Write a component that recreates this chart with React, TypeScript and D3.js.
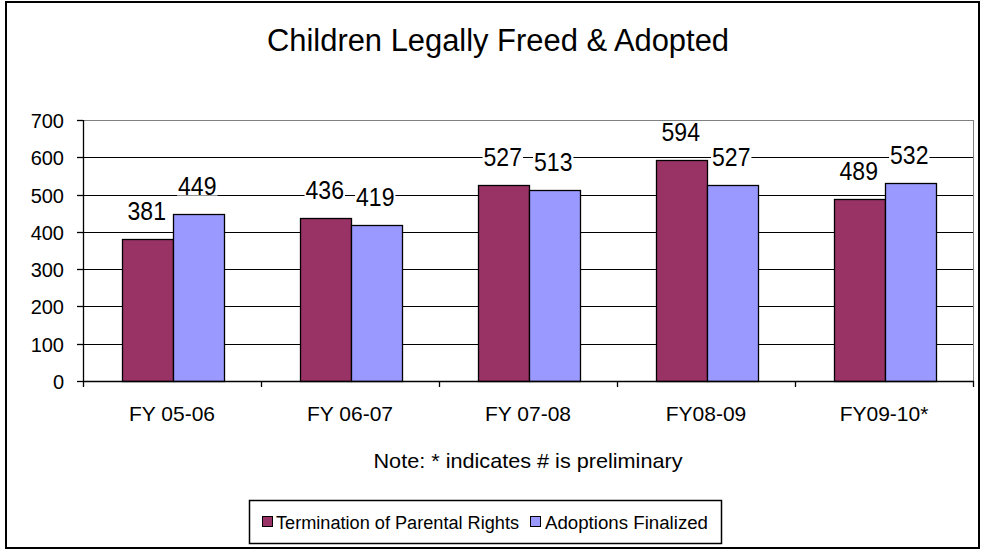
import React from "react";
import * as d3 from "d3";

const categories = ["FY 05-06", "FY 06-07", "FY 07-08", "FY08-09", "FY09-10*"];
const seriesNames = ["Termination of Parental Rights", "Adoptions Finalized"];
const terminationValues = [381, 436, 527, 594, 489];
const adoptionValues = [449, 419, 513, 527, 532];
const yTicks = [0, 100, 200, 300, 400, 500, 600, 700];
const colors = ["#993366", "#9999FF"];

const W = 982;
const H = 552;
const FONT = "'Liberation Sans', Arial, sans-serif";

export default function App() {
  const plotLeft = 83;
  const plotRight = 973;
  const plotTop = 120;
  const plotBottom = 381;

  const x = d3.scaleBand<string>().domain(categories).range([plotLeft, plotRight]).paddingInner(0).paddingOuter(0);
  const groupWidth = 101;
  const x1 = d3.scaleBand<number>().domain([0, 1]).range([0, groupWidth]);
  const y = d3.scaleLinear().domain([0, 700]).range([plotBottom, plotTop]);
  const yr = (v: number) => Math.round(y(v));

  const series = [terminationValues, adoptionValues];

  const labelFont = 25;
  const digitW = 12.8;

  return (
    <svg
      width={W}
      height={H}
      style={{ position: "absolute", left: 0, top: 0, background: "#fff" }}
      fontFamily={FONT}
    >
      <rect x={0} y={0} width={W} height={H} fill="#fff" />
      {/* outer frame */}
      <rect x={6} y={2} width={973} height={546} fill="#fff" stroke="#000" strokeWidth={2} />

      {/* title */}
      <text x={498} y={51} fontSize={31} textAnchor="middle" fill="#000" textLength={462} lengthAdjust="spacingAndGlyphs">
        Children Legally Freed &amp; Adopted
      </text>

      {/* gridlines */}
      {yTicks
        .filter((t) => t > 0 && t < 700)
        .map((t) => (
          <line key={"g" + t} x1={plotLeft} x2={plotRight} y1={yr(t) + 0.5} y2={yr(t) + 0.5} stroke="#000" strokeWidth={1} />
        ))}
      {/* plot area border top/right */}
      <line x1={plotLeft} x2={plotRight + 1} y1={plotTop + 0.5} y2={plotTop + 0.5} stroke="#808080" strokeWidth={1} />
      <line x1={plotRight + 0.5} x2={plotRight + 0.5} y1={plotTop} y2={plotBottom} stroke="#808080" strokeWidth={1} />

      {/* bars */}
      {categories.map((c, i) => {
        const gx = Math.round((x(c) as number) + x.bandwidth() / 2 - groupWidth / 2);
        return series.map((vals, s) => (
          <rect
            key={c + s}
            x={gx + Math.round(x1(s) as number) + 0.5}
            y={yr(vals[i]) + 0.5}
            width={Math.round(x1.bandwidth())}
            height={plotBottom - yr(vals[i])}
            fill={colors[s]}
            stroke="#000"
            strokeWidth={1.3}
          />
        ));
      })}

      {/* axes */}
      <line x1={plotLeft + 0.5} x2={plotLeft + 0.5} y1={plotTop} y2={plotBottom} stroke="#000" strokeWidth={1.3} />
      <line x1={plotLeft} x2={plotRight + 1} y1={plotBottom + 0.5} y2={plotBottom + 0.5} stroke="#000" strokeWidth={1.3} />
      {yTicks.map((t) => (
        <g key={"yt" + t}>
          <line x1={plotLeft - 6} x2={plotLeft} y1={yr(t) + 0.5} y2={yr(t) + 0.5} stroke="#000" strokeWidth={1.3} />
          <text x={64} y={yr(t) + 7.5} fontSize={20} textAnchor="end" fill="#000">
            {t}
          </text>
        </g>
      ))}
      {[...categories.map((c) => x(c) as number), plotRight].map((px, i) => (
        <line key={"xt" + i} x1={Math.round(px) + 0.5} x2={Math.round(px) + 0.5} y1={plotBottom} y2={plotBottom + 6} stroke="#000" strokeWidth={1.3} />
      ))}
      {categories.map((c) => (
        <text key={"xl" + c} x={(x(c) as number) + x.bandwidth() / 2} y={421} fontSize={21} textAnchor="middle" fill="#000">
          {c}
        </text>
      ))}

      {/* data labels */}
      {categories.map((c, i) => {
        const gx = (x(c) as number) + x.bandwidth() / 2 - groupWidth / 2;
        return series.map((vals, s) => {
          const cx = gx + (x1(s) as number) + x1.bandwidth() / 2;
          const cy = y(vals[i]) - 28;
          const txt = String(vals[i]);
          const tw = txt.length * digitW;
          return (
            <g key={"dl" + c + s}>
              <rect x={cx - tw / 2 - 1} y={cy - 10} width={tw + 2} height={20} fill="#fff" />
              <text x={cx} y={cy + 9} fontSize={labelFont} textAnchor="middle" fill="#000" textLength={tw} lengthAdjust="spacingAndGlyphs">
                {txt}
              </text>
            </g>
          );
        });
      })}

      {/* note */}
      <text x={528} y={468} fontSize={21} textAnchor="middle" fill="#000" textLength={309} lengthAdjust="spacingAndGlyphs">
        Note: * indicates # is preliminary
      </text>

      {/* legend */}
      <rect x={249.5} y={500.5} width={472} height={43} fill="#fff" stroke="#000" strokeWidth={1.5} />
      <rect x={262.5} y={516.5} width={10} height={10} fill={colors[0]} stroke="#000" strokeWidth={1} />
      <text x={276} y={529} fontSize={18} fill="#000" textLength={243} lengthAdjust="spacingAndGlyphs">
        {seriesNames[0]}
      </text>
      <rect x={530.5} y={516.5} width={10} height={10} fill={colors[1]} stroke="#000" strokeWidth={1} />
      <text x={545} y={529} fontSize={18} fill="#000" textLength={163} lengthAdjust="spacingAndGlyphs">
        {seriesNames[1]}
      </text>
    </svg>
  );
}
